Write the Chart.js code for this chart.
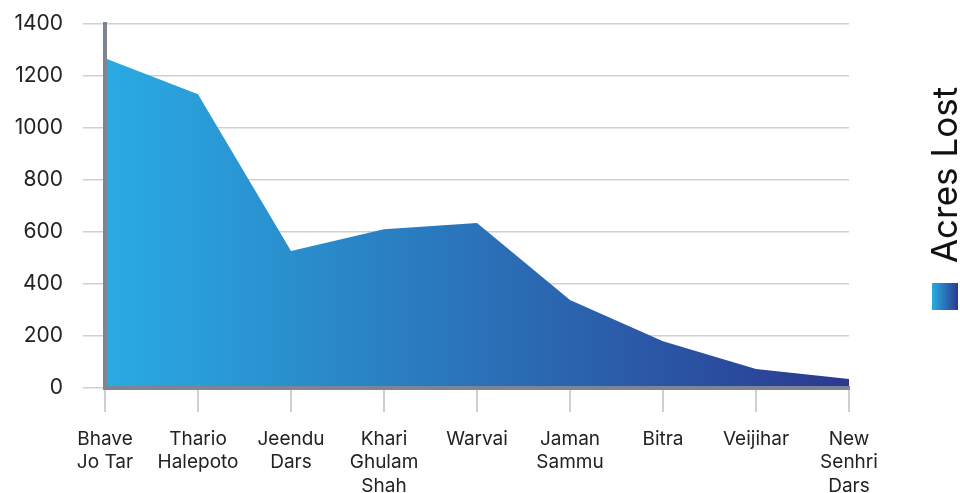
<!DOCTYPE html>
<html>
<head>
<meta charset="utf-8">
<script src="https://cdn.jsdelivr.net/npm/chart.js@4.4.1/dist/chart.umd.min.js"></script>
<style>
    html, body { margin: 0; padding: 0; background: #fff; }
    #wrap { position: relative; width: 960px; height: 493px; }
    #legend {
        position: absolute; left: 931px; top: 80px; width: 28px; height: 232px;
        font-family: Inter, sans-serif; color: #111;
    }
    #legend .swatch {
        position: absolute; left: 1px; top: 203px; width: 26px; height: 27px;
        background: linear-gradient(to right, #29abe2, #2b3990);
    }
    #legend .label {
        position: absolute; left: 13px; top: 95px; white-space: nowrap;
        font-size: 35px; transform: translate(-50%, -50%) rotate(-90deg);
    }
</style>
</head>
<body>
<div id="wrap">
    <canvas id="chart" width="960" height="493"></canvas>
    <div id="legend">
        <div class="label">Acres Lost</div>
        <div class="swatch"></div>
    </div>
</div>
<script>
const villages = [
    ['Bhave', 'Jo Tar'],
    ['Thario', 'Halepoto'],
    ['Jeendu', 'Dars'],
    ['Khari', 'Ghulam', 'Shah'],
    'Warvai',
    ['Jaman', 'Sammu'],
    'Bitra',
    'Veijihar',
    ['New', 'Senhri', 'Dars']
];
const acresLost = [1268, 1130, 527, 611, 635, 338, 180, 73, 35];
const yTicks = [0, 200, 400, 600, 800, 1000, 1200, 1400];

const axisGray = '#7d8592';
const gridGray = '#cfcfcf';
const fontFamily = "Inter, 'Noto Sans', sans-serif";

function areaGradient(ctx) {
    const area = ctx.chart.chartArea;
    if (!area) return '#29abe2';
    const g = ctx.chart.ctx.createLinearGradient(area.left, 0, area.right, 0);
    g.addColorStop(0, '#29abe2');
    g.addColorStop(1, '#2b3990');
    return g;
}

const ctx = document.getElementById('chart').getContext('2d');
new Chart(ctx, {
    type: 'line',
    data: {
        labels: villages,
        datasets: [{
            label: 'Acres Lost',
            data: acresLost,
            fill: 'origin',
            backgroundColor: areaGradient,
            borderWidth: 0,
            pointRadius: 0,
            tension: 0
        }]
    },
    options: {
        responsive: false,
        animation: false,
        layout: { padding: { top: 24, right: 111, left: 0, bottom: 0 } },
        plugins: { legend: { display: false }, tooltip: { enabled: false } },
        scales: {
            x: {
                offset: false,
                grid: {
                    drawOnChartArea: false,
                    color: gridGray,
                    lineWidth: 2,
                    tickLength: 24
                },
                border: { color: axisGray, width: 4, z: 1 },
                ticks: {
                    color: '#222',
                    font: { family: fontFamily, size: 19, lineHeight: 1.25 },
                    padding: 15,
                    maxRotation: 0,
                    autoSkip: false
                },
                afterFit: (scale) => {
                    scale.height = 105;
                    scale.paddingLeft = 0;
                    scale.paddingRight = 0;
                }
            },
            y: {
                min: 0,
                max: 1400,
                afterBuildTicks: (scale) => { scale.ticks = yTicks.map(v => ({ value: v })); },
                grid: {
                    color: gridGray,
                    lineWidth: 1.5,
                    tickLength: 22
                },
                border: { color: axisGray, width: 4, z: 1 },
                ticks: {
                    color: '#222',
                    font: { family: fontFamily, size: 21 },
                    padding: 20,
                    callback: (v) => String(v)
                },
                afterFit: (scale) => {
                    scale.width = 105;
                    scale.paddingTop = 0;
                    scale.paddingBottom = 0;
                }
            }
        }
    }
});
</script>
</body>
</html>
